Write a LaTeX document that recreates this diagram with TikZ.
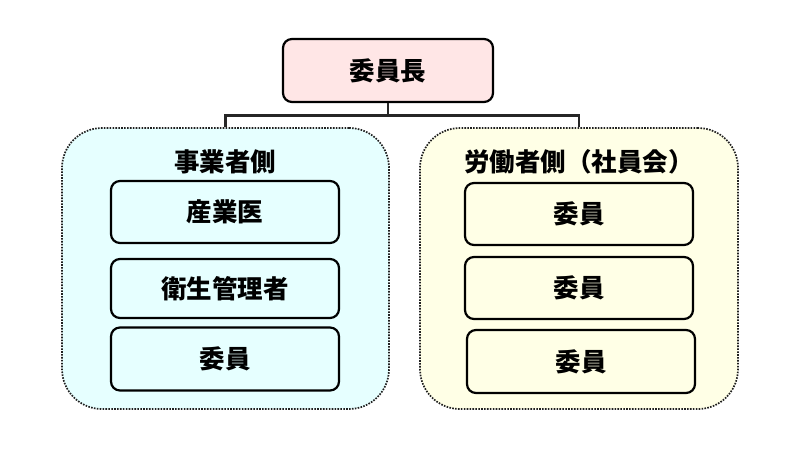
\documentclass[tikz,border=0pt]{standalone}
\usepackage{fontspec}
\newfontfamily\jp{Noto Sans CJK JP}
\definecolor{pinkfill}{HTML}{FFE6E6}
\definecolor{cyanfill}{HTML}{E6FFFF}
\definecolor{yelfill}{HTML}{FFFFE6}
\definecolor{dotline}{HTML}{202020}
\tikzset{
  lbl/.style={font=\jp\bfseries\fontsize{25.5}{27}\selectfont, text=black},
  topbox/.style={draw=black, line width=2.2pt, rounded corners=9pt, fill=pinkfill, lbl},
  itembox/.style={draw=black, line width=2.2pt, rounded corners=9pt, minimum width=228pt, minimum height=62pt, lbl},
  group/.style={draw=dotline, line width=1.7pt, dash pattern=on 1.6pt off 1.3pt, rounded corners=40pt},
  conn/.style={draw=black!85, line width=2.2pt}
}
\begin{document}
\begin{tikzpicture}[x=1pt,y=-1pt]
\useasboundingbox (0,0) rectangle (801,459);
% groups
\node[group, fill=cyanfill, minimum width=327pt, minimum height=281pt] (lg) at (225.5,268.5) {};
\node[group, fill=yelfill, minimum width=318pt, minimum height=281pt] (rg) at (579,268.5) {};
% top
\node[topbox, minimum width=210pt, minimum height=63pt] (top) at (388,70.5) {委員長};
% titles
\node[lbl] (lt) at (225,162) {事業者側};
\node[lbl] (rt) at (579,162) {労働者側（社員会）};
% left items
\node[itembox, fill=cyanfill] (l1) at (225,212) {産業医};
\node[itembox, fill=cyanfill, minimum height=59pt] (l2) at (225,288.5) {衛生管理者};
\node[itembox, fill=cyanfill, minimum height=63pt] (l3) at (225,359) {委員};
% right items
\node[itembox, fill=yelfill] (r1) at (579,214) {委員};
\node[itembox, fill=yelfill] (r2) at (579,288) {委員};
\node[itembox, fill=yelfill, minimum height=63pt] (r3) at (581,361.5) {委員};
% connectors
\coordinate (bus) at (388,115.5);
\draw[conn] (top.south) -- (top.south |- bus);
\draw[conn] (lg.north) -- (lg.north |- bus) -- (rg.north |- bus) -- (rg.north);
\end{tikzpicture}
\end{document}
